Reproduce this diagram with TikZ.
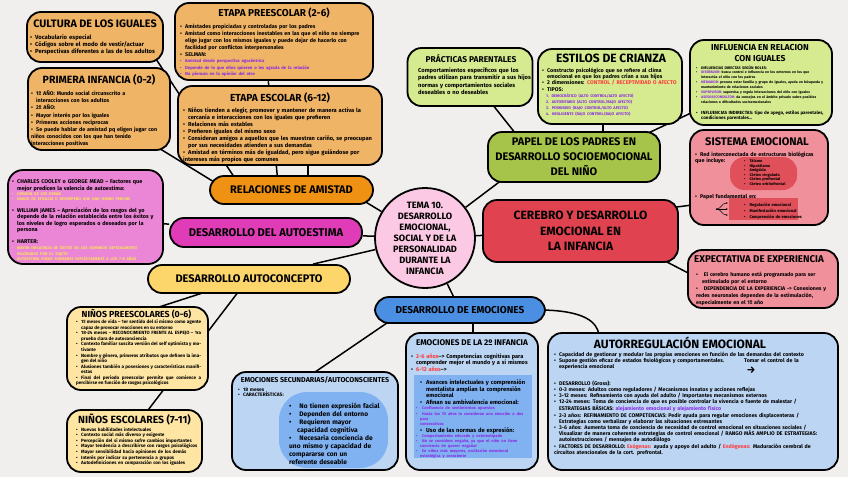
\documentclass[tikz,border=0pt]{standalone}
\usepackage{fontspec}
\setmainfont{Fira Sans}
\usetikzlibrary{arrows.meta}

\definecolor{fondo}{HTML}{F0EFED}
\definecolor{naranjaclaro}{HTML}{F0B466}
\definecolor{naranja}{HTML}{EF9213}
\definecolor{rosafuerte}{HTML}{E13CB8}
\definecolor{rosacooley}{HTML}{EB85D5}
\definecolor{amarillo}{HTML}{FCD56B}
\definecolor{amarilloclaro}{HTML}{FEE5A3}
\definecolor{azul}{HTML}{4A8FE2}
\definecolor{azulclaro}{HTML}{BCD5F2}
\definecolor{azulmedio}{HTML}{80B2F2}
\definecolor{verde}{HTML}{A6C34A}
\definecolor{verdeclaro}{HTML}{D6EA8F}
\definecolor{rojo}{HTML}{E0424F}
\definecolor{rojoclaro}{HTML}{E0505A}
\definecolor{rosasistema}{HTML}{F0909B}
\definecolor{rosacentro}{HTML}{FBC9E3}
\definecolor{violeta}{HTML}{8A2BE2}
\definecolor{rojotexto}{HTML}{FF3B3B}
\definecolor{amarillotexto}{HTML}{F7E35A}

\newcommand\itm[1][5pt]{\par\hangindent=#1\hangafter=1\noindent\hbox to #1{\textbullet\hfil}}
\newcommand\subitm[1][4pt]{\par\hangindent=\dimexpr#1+6pt\relax\hangafter=1\noindent\hbox to \dimexpr#1+6pt\relax{\hskip#1\textbullet\hfil}}
\newcommand\nitm{\par\noindent\hspace*{4pt}}
\newcommand\tam[2]{\fontsize{#1}{#2}\selectfont}

\pgfdeclarelayer{capafondo}
\pgfdeclarelayer{capalineas}
\pgfsetlayers{capafondo,capalineas,main}

\tikzset{
  caja/.style={draw=black, line width=1.8pt, rounded corners=14pt, inner sep=0pt, align=center},
  titulo/.style={font=\bfseries\fontsize{#1}{#1}\selectfont, inner sep=0pt},
  texto/.style n args={3}{anchor=north west, inner sep=0pt, align=left, text width=#1, font=\bfseries\fontsize{#2}{#3}\selectfont},
  linea/.style={line width=1.5pt},
}

\begin{document}
\begin{tikzpicture}[x=1pt,y=-1pt]

\useasboundingbox (0,0) rectangle (848,477);
\begin{pgfonlayer}{capafondo}
\fill[fondo] (0,0) rectangle (848,477);
\end{pgfonlayer}

%%%%%%%%%%%% Friendship %%%%%%%%%%%%%%%%%%%

%Peer culture
\node[caja, fill=naranjaclaro, minimum width=136pt, minimum height=50pt] (cultura) at (95,37) {};
\node[titulo=10.8] (cultura-t) at (95,24) {CULTURA DE LOS IGUALES};
\node[texto={130pt}{5.9}{7.4}] (cultura-b) at (30,31.5) {\itm Vocabulario especial \itm Códigos sobre el modo de vestir/actuar \itm Perspectivas diferentes a las de los adultos};

%First childhood
\node[caja, fill=naranjaclaro, minimum width=142pt, minimum height=82pt] (primera) at (99,109) {};
\node[titulo=10.5] (primera-t) at (99,79.5) {PRIMERA INFANCIA (0-2)};
\node[texto={136pt}{5.4}{7.2}] (primera-b) at (31,88) {\itm 1º AÑO: Mundo social circunscrito a\newline interacciones con los adultos \itm 2º AÑO: \itm Mayor interés por los iguales \itm Primeras acciones recíprocas \itm Se puede hablar de amistad pq eligen jugar con\newline niños conocidos con los que han tenido\newline interacciones positivas};

%Preschool stage
\node[caja, fill=naranjaclaro, minimum width=198pt, minimum height=77pt] (preescolar) at (274,41.5) {};
\node[titulo=10] (preescolar-t) at (274,13) {ETAPA PREESCOLAR (2-6)};
\node[texto={192pt}{5.4}{7}] (preescolar-b) at (180,21) {\itm Amistades propiciadas y controladas por los padres \itm Amistad como interacciones inestables en las que el niño no siempre\newline elige jugar con los mismos iguales y puede dejar de hacerlo con\newline facilidad por conflictos interpersonales \itm SELMAN:\par {\color{violeta}\tam{4.3}{6.5}\itm Amistad desde perspectiva egocéntrica \itm Depende de lo que ellos quieren o les agrada de la relación \itm No piensan en la opinión del otro\par}};

%School stage
\node[caja, fill=naranjaclaro, minimum width=204pt, minimum height=79pt] (escolar) at (280,125.5) {};
\node[titulo=10.2] (escolar-t) at (280,97.5) {ETAPA ESCOLAR (6-12)};
\node[texto={197pt}{5.7}{7}] (escolar-b) at (183,105) {\itm Niños tienden a elegir, promover y mantener de manera activa la\newline cercanía e interacciones con los iguales que prefieren \itm Relaciones más estables \itm Prefieren iguales del mismo sexo \itm Consideran amigos a aquellos que les muestran cariño, se preocupan\newline por sus necesidades atienden a sus demandas \itm Amistad en términos más de igualdad, pero sigue guiándose por\newline intereses más propios que comunes};

%Friendship
\node[caja, fill=naranja, minimum width=163pt, minimum height=28pt, font=\bfseries\fontsize{11}{11}\selectfont] (amistad) at (291.5,190) {RELACIONES DE AMISTAD};

%%%%%%%%%%%% Self-esteem and self-concept %%%%%%%%%%%%%%%%%%%

%Self-esteem
\node[caja, fill=rosafuerte, minimum width=192pt, minimum height=29pt, font=\bfseries\fontsize{11.2}{11.2}\selectfont] (autoestima) at (266,232.5) {DESARROLLO DEL AUTOESTIMA};

%Authors box
\node[caja, fill=rosacooley, minimum width=155pt, minimum height=94pt, rounded corners=15pt] (cooley) at (85.5,217) {};
\node[texto={148pt}{5.5}{6.4}] (cooley-b) at (12,177) {\itm CHARLES COOLEY o GEORGE MEAD -- Factores que\newline mejor predicen la valencia de autoestima:\par {\color{amarillotexto}\tam{3.9}{5.4}\itm OPINIÓN DE LOS DEMÁS \itm GRADO DE EFICACIA O DESEMPEÑO QUE UNO MISMO PERCIBE\par}\vskip 5pt \itm WILLIAM JAMES -- Apreciación de los rasgos del yo\newline depende de la relación establecida entre los éxitos y\newline los niveles de logro esperados o deseados por la\newline persona\par\vskip 6pt\itm HARTER:\par {\color{amarillotexto}\tam{3.9}{5.6}\itm MAYOR INFLUENCIA DE ÉXITOS EN LOS DOMINIOS ESPECIALMENTE\newline VALORADOS POR EL SUJETO\par\noindent\hspace*{5pt}AUTOESTIMA PUEDE FORMARSE EXPLÍCITAMENTE A LOS 7-8 AÑOS\par}};

%Self-concept
\node[caja, fill=amarillo, minimum width=202pt, minimum height=28pt, font=\bfseries\fontsize{11}{11}\selectfont] (autoconcepto) at (249,279) {DESARROLLO AUTOCONCEPTO};

%Preschool children
\node[caja, fill=amarilloclaro, minimum width=141pt, minimum height=83pt] (preesc) at (137.5,348.5) {};
\node[titulo=8.8] (preesc-t) at (136.5,314) {NIÑOS PREESCOLARES (0-6)};
\node[texto={125pt}{4.6}{5.55}, align=justify] (preesc-b) at (76,318) {\itm 1º meses de vida -- 1er sentido del sí mismo como agente capaz de provocar reacciones en su entorno \itm 18-24 meses -- RECONOCIMIENTO FRENTE AL ESPEJO -- 1ra prueba clara de autoconciencia \itm Contexto familiar suscita versión del self optimista y motivante \itm Nombre y género, primeros atributos que definen la imagen del niño \itm Alusiones también a posesiones y características manifiestas \itm Final del periodo preescolar permite que comience a percibirse en función de rasgos psicológicos};

%School children
\node[caja, fill=amarilloclaro, minimum width=135pt, minimum height=62pt] (esc) at (134.5,441) {};
\node[titulo=10.4] (esc-t) at (134.5,420) {NIÑOS ESCOLARES (7-11)};
\node[texto={122pt}{4.6}{5.55}] (esc-b) at (76,425.5) {\itm Nuevas habilidades intelectuales \itm Contexto social más diverso y exigente \itm Percepción del sí mismo sufre cambios importantes \itm Mayor tendencia a describirse con rasgos psicológicos \itm Mayor sensibilidad hacia opiniones de los demás \itm Interés por indicar su pertenencia a grupos \itm Autodefiniciones en comparación con los iguales};

%%%%%%%%%%%% Centre %%%%%%%%%%%%%%%%%%%

\node[circle, draw=black, line width=1.8pt, fill=rosacentro, minimum size=100pt, inner sep=0pt, align=center, font=\bfseries\fontsize{9.2}{11}\selectfont] (tema) at (425,238) {TEMA 10.\\DESARROLLO\\EMOCIONAL,\\SOCIAL Y DE LA\\PERSONALIDAD\\DURANTE LA\\INFANCIA};

%%%%%%%%%%%% Parents %%%%%%%%%%%%%%%%%%%

%Parents role
\node[caja, fill=verde, minimum width=172pt, minimum height=50pt, font=\bfseries\fontsize{11}{15}\selectfont] (papel) at (574,157) {PAPEL DE LOS PADRES EN\\DESARROLLO SOCIOEMOCIONAL\\DEL NIÑO};

%Parenting practices
\node[caja, fill=verdeclaro, minimum width=125pt, minimum height=58pt] (practicas) at (470,77) {};
\node[titulo=8.4] (practicas-t) at (471,59) {PRÁCTICAS PARENTALES};
\node[texto={117pt}{5.8}{7.3}] (practicas-b) at (418,67.5) {Comportamientos específicos que los\newline padres utilizan para transmitir a sus hijos\newline normas y comportamientos sociales\newline deseables o no deseables};

%Parenting styles
\node[caja, fill=verdeclaro, minimum width=144pt, minimum height=75pt] (estilos) at (610,86.5) {};
\node[titulo=12] (estilos-t) at (611,58.5) {ESTILOS DE CRIANZA};
\node[texto={139pt}{5.4}{6.4}] (estilos-b) at (542,65.5) {\itm Constructo psicológico que se refiere al clima\newline emocional en que los padres crían a sus hijos \itm 2 dimensiones: \textcolor{rojotexto}{CONTROL / RECEPTIVIDAD O AFECTO} \itm TIPOS:\par {\color{violeta}\tam{3.9}{6}\nitm 1. DEMOCRÁTICO (ALTO CONTROL/ALTO AFECTO)\nitm 2. AUTORITARIO (ALTO CONTROL/BAJO AFECTO)\nitm 3. PERMISIVO (BAJO CONTROL/ALTO AFECTO)\nitm 4. NEGLIGENTE (BAJO CONTROL/BAJO AFECTO)\par}};

%Peer relations
\node[caja, fill=verdeclaro, minimum width=142pt, minimum height=85pt] (influencia) at (761,82.5) {};
\node[inner sep=0pt, align=center, font=\bfseries\fontsize{8.6}{11}\selectfont] (influencia-t) at (760,53.5) {INFLUENCIA EN RELACION\\CON IGUALES};
\node[texto={132pt}{3.8}{4.8}] (influencia-b) at (696,64) {\itm INFLUENCIAS DIRECTAS SEGÚN ROLES:\par {\tam{3.5}{4.9}\itm \textcolor{violeta}{DISEÑADOR:} busca control e influencia en los entornos en los que\newline interactúa el niño con los padres \itm \textcolor{violeta}{MEDIADOR:} procura estar familia y grupo de iguales, ayuda en búsqueda y\newline mantenimiento de relaciones sociales \itm \textcolor{violeta}{SUPERVISOR:} supervisa y regula interacciones del niño con iguales \itm \textcolor{violeta}{ASESOR/CONSULTOR:} da consejos en el ámbito privado sobre posibles\newline relaciones o dificultades socioemocionales\par}\vskip 5pt {\tam{4.5}{5.8}\itm INFLUENCIAS INDIRECTAS: tipo de apego, estilos parentales,\newline condiciones parentales...\par}};

%%%%%%%%%%%% Brain %%%%%%%%%%%%%%%%%%%

%Brain
\node[caja, fill=rojo, minimum width=195pt, minimum height=62pt, font=\bfseries\fontsize{12}{15.5}\selectfont] (cerebro) at (580.5,231) {CEREBRO Y DESARROLLO\\EMOCIONAL EN\\LA INFANCIA};

%Emotional system
\node[caja, fill=rosasistema, minimum width=138pt, minimum height=95pt] (sistema) at (759,177.5) {};
\node[titulo=11] (sistema-t) at (757,141.5) {SISTEMA EMOCIONAL};
\node[texto={131pt}{5.4}{6.2}] (sistema-b) at (695,150) {\itm Red interconectada de estructuras biológicas\newline que incluye:};
\node[fill=rojoclaro, rounded corners=14pt, minimum width=67pt, minimum height=33pt, inner sep=0pt] (estructuras) at (763.5,173.5) {};
\node[texto={55pt}{3.9}{4.5}] (estructuras-b) at (744,158) {\itm[4pt] Tálamo \itm[4pt] Hipotálamo \itm[4pt] Amígdala \itm[4pt] Córtex cingulado \itm[4pt] Córtex prefrontal \itm[4pt] Córtex orbitofrontal};
\node[texto={120pt}{5.4}{6.2}] (papelf) at (695,192) {\itm Papel fundamental en:};
\node[fill=rojoclaro, minimum width=69pt, minimum height=22pt, inner sep=0pt] (funciones) at (763.5,209) {};
\node[texto={66pt}{4.1}{6}] (funciones-b) at (744,200.5) {\itm[4pt] Regulación emocional \itm[4pt] Manifestación emocional \itm[4pt] Comprensión de emociones};
\coordinate (rama) at (716,209);
\draw[-{Stealth[length=2pt]}, line width=0.5pt] (rama) -- ([xshift=-1pt]funciones.west);
\draw[-{Stealth[length=2pt]}, line width=0.5pt] (rama) .. controls (722,209) and (721,203) .. ([xshift=-1pt,yshift=6pt]funciones.west);
\draw[-{Stealth[length=2pt]}, line width=0.5pt] (rama) .. controls (722,209) and (721,215) .. ([xshift=-1pt,yshift=-6pt]funciones.west);

%Experience
\node[caja, fill=rosasistema, minimum width=150pt, minimum height=58pt] (expectativa) at (763,279) {};
\node[titulo=9.8] (expectativa-t) at (759,259.5) {EXPECTATIVA DE EXPERIENCIA};
\node[texto={138pt}{5.3}{7}] (expectativa-b) at (696,269) {\itm[6pt] El cerebro humano está programado para ser\newline estimulado por el entorno \itm[6pt] DEPENDENCIA DE LA EXPERIENCIA -> Conexiones y\newline redes neuronales dependen de la estimulación,\newline especialmente en el 1º año};

%%%%%%%%%%%% Emotions %%%%%%%%%%%%%%%%%%%

\node[caja, fill=azul, minimum width=170pt, minimum height=26pt, font=\bfseries\fontsize{10}{10}\selectfont] (emociones) at (460,310) {DESARROLLO DE EMOCIONES};

%Secondary emotions
\node[caja, fill=azulclaro, minimum width=166pt, minimum height=98pt] (secundarias) at (315,421) {};
\node[titulo=7.1] (secundarias-t) at (315,379.5) {EMOCIONES SECUNDARIAS/AUTOCONSCIENTES};
\node[texto={140pt}{4.9}{5.8}] (secundarias-b) at (238,385) {\itm 18 meses \itm CARACTERÍSTICAS:};
\node[fill=azulmedio, rounded corners=28pt, minimum width=109pt, minimum height=76pt, inner sep=0pt] (rasgos) at (333.5,430) {};
\node[texto={97pt}{6.6}{8}] (rasgos-b) at (289,400) {\itm[8pt] No tienen expresión facial \itm[8pt] Dependen del entorno \itm[8pt] Requieren mayor\newline capacidad cognitiva \itm[8pt] Necesaria conciencia de\newline uno mismo y capacidad de\newline compararse con un\newline referente deseable};

%Second childhood
\node[caja, fill=azulclaro, minimum width=132pt, minimum height=137pt] (infancia2) at (472,401.5) {};
\node[titulo=8.2] (infancia2-t) at (472,343) {EMOCIONES DE LA 2º INFANCIA};
\node[texto={125pt}{5.6}{6.8}] (infancia2-b) at (411,351) {\itm \textcolor{rojotexto}{2-6 años}--> Competencias cognitivas para\newline comprender mejor el mundo y a sí mismos \itm \textcolor{rojotexto}{6-12 años}-->};
\node[fill=azulmedio, minimum width=118pt, minimum height=83pt, inner sep=0pt] (ambivalencia) at (473,416.5) {};
\node[texto={115pt}{5.8}{6.9}] (ambivalencia-b) at (416,377) {\subitm Avances intelectuales y comprensión\newline mentalista amplían la comprensión\newline emocional \subitm Afinan su ambivalencia emocional:\par {\color{violeta}\tam{4}{5.1}\itm[4pt] Confluencia de sentimientos opuestos \itm[4pt] Hasta los 10 años lo consideran una emoción a dos para\newline consecutivas\par}\subitm Uso de las normas de expresión:\par {\color{violeta}\tam{4}{5.1}\itm[4pt] Comportamiento educado y estereotipado \itm[4pt] No se considera engaño, ya que el niño no tiene\newline conciencia de querer engañar \itm[4pt] En niños más mayores, ocultación emocional\newline estratégica y consciente\par}};

%Self-regulation
\node[caja, fill=azulclaro, minimum width=290pt, minimum height=137pt] (autorreg) at (693,401.5) {};
\node[titulo=12] (autorreg-t) at (680,342.5) {AUTORREGULACIÓN EMOCIONAL};
\node[texto={282pt}{5.3}{6.2}] (autorreg-b) at (554,350) {\itm Capacidad de gestionar y modular las propias emociones en función de las demandas del contexto \itm Supone gestión eficaz de estados fisiológicos y comportamentales.\hspace{20pt}Tomar el control de la\newline experiencia emocional\par\vskip 10pt \itm DESARROLLO (Gross): \itm 0-3 meses: Adultos como reguladores / Mecanismos innatos y acciones reflejas \itm 3-12 meses: Refinamiento con ayuda del adulto / Importantes mecanismos externos \itm 12-24 meses: Toma de conciencia de que es posible controlar la vivencia o fuente de malestar /\newline ESTRATEGIAS BÁSICAS: \textcolor{violeta}{alejamiento emocional y alejamiento físico} \itm 2-3 años: REFINAMIENTO DE COMPETENCIAS: Pedir ayuda para regular emociones displacenteras /\newline Estrategias como verbalizar y elaborar las situaciones estresantes \itm 3-6 años: Aumenta toma de conciencia de necesidad de control emocional en situaciones sociales /\newline Visualizar de manera coherente estrategias de control emocional / RANGO MÁS AMPLIO DE ESTRATEGIAS:\newline autoinstrucciones / mensajes de autodiálogo \itm FACTORES DE DESARROLLO: \textcolor{rojotexto}{Exógenas:} ayuda y apoyo del adulto / \textcolor{rojotexto}{Endógenas:} Maduración cerebral de\newline circuitos atencionales de la cort. prefrontal.};
\node[inner sep=0pt, font=\bfseries\fontsize{10}{10}\selectfont] (flecha) at (751,370) {→};

%%%%%%%%%%%% Connectors %%%%%%%%%%%%%%%%%%%
\begin{pgfonlayer}{capalineas}
\draw[linea] ([xshift=-8pt,yshift=4pt]cultura.south east) -- ([xshift=-56pt,yshift=-4pt]amistad.north);
\draw[linea] ([xshift=-14pt,yshift=4pt]primera.south east) -- ([xshift=5pt,yshift=8pt]amistad.west);
\draw[linea] ([xshift=-6pt,yshift=3pt]preescolar.south) -- ([xshift=-14pt,yshift=-3pt]amistad.north);
\draw[linea] ([xshift=28pt,yshift=3pt]escolar.south) -- ([xshift=16.5pt,yshift=-3pt]amistad.north);
\draw[linea] ([xshift=-10pt,yshift=4pt]amistad.south east) -- (tema);
\draw[linea] (autoestima) -- (tema);
\draw[linea] (cooley) -- (autoestima);
\draw[linea] (autoconcepto) -- (tema);
\draw[linea] ([xshift=15pt,yshift=-3pt]preesc.north) -- ([xshift=-40pt,yshift=3pt]autoconcepto.south);
\draw[linea] ([xshift=12pt,yshift=-3pt]esc.north) -- ([xshift=-10pt,yshift=3pt]autoconcepto.south);
\draw[linea] (tema) -- (emociones);
\draw[linea] ([xshift=-70pt,yshift=3pt]emociones.south) -- ([xshift=-3pt,yshift=-3pt]secundarias.north);
\draw[linea] ([xshift=13pt,yshift=3pt]emociones.south) -- ([xshift=1pt,yshift=-3pt]infancia2.north);
\draw[linea] ([xshift=-3pt]emociones.east) .. controls (585,311) and (597,322) .. ([xshift=52pt,yshift=-3pt]autorreg.north west);
\draw[linea] (tema) -- ([xshift=-72pt,yshift=3pt]papel.south);
\draw[linea] (tema) -- (cerebro);
\draw[linea] ([xshift=22pt,yshift=3pt]practicas.south) -- ([xshift=-58pt,yshift=-3pt]papel.north);
\draw[linea] ([xshift=-7pt,yshift=3pt]estilos.south) -- ([xshift=29pt,yshift=-3pt]papel.north);
\draw[linea] ([xshift=-15pt,yshift=-3pt]papel.north east) -- ([xshift=3pt,yshift=-30pt]influencia.west);
\draw[linea] ([xshift=-3pt,yshift=-8pt]cerebro.north east) -- ([xshift=3pt,yshift=-27.5pt]sistema.west);
\draw[linea] ([xshift=-16pt,yshift=3pt]cerebro.south east) -- ([xshift=3pt,yshift=5pt]expectativa.west);
\end{pgfonlayer}

\end{tikzpicture}
\end{document}
